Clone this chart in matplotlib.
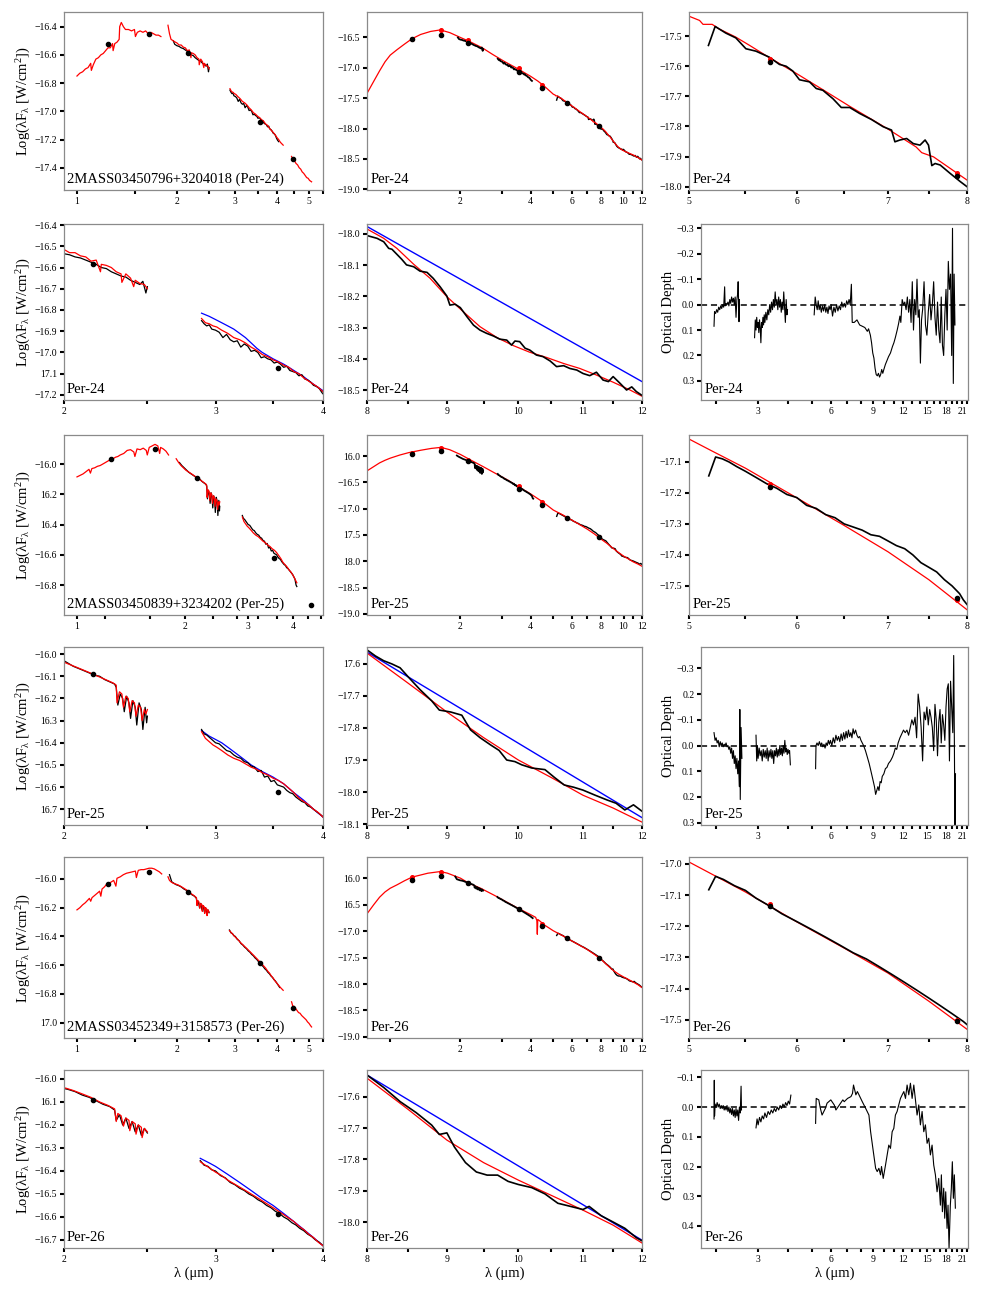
import matplotlib
matplotlib.use('Agg')
import matplotlib.pyplot as plt
from matplotlib.ticker import FixedLocator, FixedFormatter, NullFormatter, NullLocator

plt.rcParams['font.family'] = ['Liberation Serif', 'DejaVu Serif']
plt.rcParams['mathtext.fontset'] = 'custom'
plt.rcParams['mathtext.rm'] = 'Liberation Serif'
plt.rcParams['mathtext.it'] = 'Liberation Serif:italic'

# ======================= DATA =======================
phot_wl = [1.24, 1.65, 2.16, 3.55, 4.49, 5.73, 7.87]

# ---------------- Per-24 ----------------
p24_nirA_wl = [1.00,1.02,1.04,1.06,1.08,1.10,1.105,1.12,1.14,1.16,1.18,1.20,1.22,1.24,1.26,1.28,1.285,1.30,1.32,1.34,1.345,1.36,1.38,1.40,1.43,1.46,1.49,1.50,1.52,1.55,1.58,1.61,1.64,1.67,1.70,1.73,1.76,1.79]
p24_nirA_v = [-16.75,-16.73,-16.72,-16.70,-16.69,-16.66,-16.71,-16.67,-16.63,-16.62,-16.60,-16.59,-16.57,-16.55,-16.55,-16.52,-16.57,-16.52,-16.51,-16.49,-16.40,-16.37,-16.40,-16.42,-16.42,-16.43,-16.42,-16.47,-16.44,-16.43,-16.44,-16.43,-16.45,-16.44,-16.45,-16.46,-16.46,-16.47]
p24_nirB_wl = [1.88,1.90,1.92,1.95,1.98,2.00,2.03,2.06,2.09,2.12,2.15,2.18,2.205,2.21,2.24,2.27,2.30,2.33,2.335,2.36,2.39,2.41,2.42,2.45,2.48,2.50]
p24_nirB_v = [-16.39,-16.45,-16.49,-16.50,-16.51,-16.515,-16.53,-16.53,-16.545,-16.55,-16.57,-16.565,-16.62,-16.585,-16.59,-16.60,-16.62,-16.63,-16.67,-16.63,-16.65,-16.69,-16.66,-16.675,-16.68,-16.70]
p24_nirC_wl = [2.89,2.92,2.95,2.98,3.01,3.05,3.10,3.15,3.20,3.25,3.30,3.35,3.40,3.45,3.50,3.55,3.60,3.65,3.70,3.75,3.80,3.85,3.90,3.95,4.00,4.05,4.10,4.18]
p24_nirC_v = [-16.84,-16.86,-16.865,-16.875,-16.88,-16.895,-16.91,-16.93,-16.94,-16.955,-16.975,-16.99,-17.01,-17.02,-17.035,-17.045,-17.06,-17.07,-17.09,-17.10,-17.12,-17.135,-17.15,-17.165,-17.185,-17.20,-17.22,-17.24]
p24_nirD_wl = [4.43,4.47,4.52,4.57,4.62,4.67,4.72,4.77,4.82,4.87,4.92,4.97,5.02,5.09]
p24_nirD_v = [-17.32,-17.34,-17.35,-17.37,-17.38,-17.40,-17.41,-17.43,-17.44,-17.455,-17.47,-17.475,-17.49,-17.50]
p24_obsB_wl = [1.95,1.97,2.00,2.03,2.06,2.09,2.12,2.15,2.18,2.21,2.24,2.27,2.30,2.33,2.36,2.39,2.42,2.45,2.47,2.49,2.50]
p24_obsB_v = [-16.50,-16.525,-16.535,-16.54,-16.55,-16.555,-16.565,-16.575,-16.585,-16.60,-16.605,-16.62,-16.63,-16.64,-16.645,-16.66,-16.67,-16.68,-16.665,-16.72,-16.69]
p24_obsC_wl = [2.89,2.91,2.93,2.95,2.97,3.00,3.03,3.06,3.09,3.12,3.15,3.18,3.21,3.24,3.27,3.30,3.33,3.36,3.39,3.42,3.45,3.48,3.51,3.54,3.57,3.60,3.63,3.66,3.69,3.72,3.75,3.78,3.81,3.84,3.87,3.90,3.93,3.96,3.99,4.02,4.05]
p24_obsC_v = [-16.85,-16.865,-16.875,-16.87,-16.89,-16.895,-16.905,-16.93,-16.915,-16.94,-16.95,-16.945,-16.975,-16.96,-16.97,-16.995,-16.99,-17.0,-17.025,-17.02,-17.03,-17.035,-17.05,-17.045,-17.055,-17.07,-17.065,-17.085,-17.09,-17.095,-17.11,-17.105,-17.125,-17.13,-17.14,-17.155,-17.16,-17.17,-17.19,-17.205,-17.215]
p24_blue_wl = [2.89,2.95,3.00,3.05,3.10,3.15,3.20,3.25,3.30,3.35,3.40,3.50,3.60,3.70,3.80,3.90,4.00]
p24_blue_v = [-16.815,-16.83,-16.845,-16.86,-16.875,-16.89,-16.91,-16.93,-16.955,-16.98,-17.00,-17.03,-17.055,-17.085,-17.115,-17.15,-17.18]
p24_sed_wl = [0.79,0.85,0.90,0.95,1.00,1.07,1.15,1.24,1.35,1.49,1.64,1.80,2.00,2.20,2.48,2.75,3.07,3.50,4.00,4.30,4.57,5.00]
p24_sed_v = [-17.44,-17.22,-17.05,-16.90,-16.79,-16.70,-16.61,-16.52,-16.45,-16.40,-16.375,-16.42,-16.50,-16.57,-16.67,-16.78,-16.89,-17.01,-17.14,-17.22,-17.30,-17.434]
p24_mirR_wl = [5.00,5.09,5.12,5.20,5.26,5.41,5.54,5.73,5.99,6.27,6.56,6.99,7.34,7.41,7.56,8.00]
p24_mirR_v = [-17.434,-17.448,-17.461,-17.461,-17.476,-17.503,-17.531,-17.572,-17.623,-17.678,-17.733,-17.807,-17.868,-17.887,-17.901,-17.978]
p24_mirB_wl = [5.167,5.226,5.321,5.412,5.505,5.599,5.727,5.826,5.892,5.959,6.027,6.13,6.2,6.27,6.378,6.468,6.561,6.673,6.807,6.943,7.042,7.082,7.143,7.224,7.306,7.389,7.453,7.496,7.538,7.58,7.645,7.776,7.909,8.0]
p24_mirB_v = [-17.531,-17.468,-17.490,-17.506,-17.542,-17.550,-17.570,-17.594,-17.600,-17.616,-17.645,-17.652,-17.674,-17.680,-17.708,-17.737,-17.737,-17.757,-17.777,-17.801,-17.812,-17.851,-17.845,-17.840,-17.857,-17.862,-17.845,-17.862,-17.930,-17.923,-17.928,-17.956,-17.983,-18.0]
p24_lwR_wl = [8.0,8.2,8.36,8.57,8.78,9.0,9.22,9.45,9.69,9.93,10.17,10.43,10.69,10.95,11.22,11.5,11.79,12.0]
p24_lwR_v = [-17.984,-18.014,-18.046,-18.097,-18.142,-18.201,-18.249,-18.297,-18.332,-18.358,-18.379,-18.396,-18.415,-18.431,-18.452,-18.475,-18.50,-18.52]
p24_lwB_wl = [8.0,8.12,8.2,8.26,8.3,8.36,8.42,8.48,8.57,8.65,8.74,8.82,8.91,9.0,9.04,9.11,9.18,9.27,9.36,9.45,9.54,9.64,9.73,9.83,9.9,9.95,10.02,10.1,10.17,10.27,10.37,10.48,10.58,10.69,10.79,10.9,11.0,11.11,11.22,11.33,11.42,11.5,11.62,11.73,11.82,11.9,11.99]
p24_lwB_v = [-18.005,-18.014,-18.025,-18.046,-18.049,-18.065,-18.081,-18.099,-18.105,-18.119,-18.123,-18.142,-18.169,-18.199,-18.228,-18.225,-18.236,-18.265,-18.292,-18.308,-18.318,-18.327,-18.337,-18.340,-18.356,-18.343,-18.345,-18.366,-18.372,-18.388,-18.393,-18.407,-18.425,-18.422,-18.431,-18.436,-18.447,-18.454,-18.443,-18.468,-18.473,-18.457,-18.479,-18.5,-18.49,-18.505,-18.516]
p24_cont_wl = [8.0, 12.0]
p24_cont_v = [-17.976, -18.473]
p24_phot_obs = [-16.52,-16.455,-16.585,-17.075,-17.335,-17.585,-17.965]
p24_phot_mod = [-16.52,-16.38,-16.545,-17.00,-17.29,-17.575,-17.955]
p24_od1 = [(1.97,0.085),(1.98,0.027),(2.00,0.035),(2.02,0.02),(2.04,0.03),(2.06,0.01),(2.08,0.02),(2.10,0.005),(2.12,0.015),(2.14,0.0),(2.16,0.01),(2.18,-0.07),(2.19,0.005),(2.21,-0.005),(2.23,0.0),(2.25,-0.01),(2.27,0.005),(2.29,-0.02),(2.31,-0.005),(2.33,-0.03),(2.35,-0.01),(2.37,-0.025),(2.39,0.0),(2.41,-0.03),(2.43,0.05),(2.45,-0.02),(2.47,-0.045),(2.48,-0.09),(2.50,0.067),(2.51,-0.02)]
p24_od2 = [(2.90,0.13),(2.92,0.06),(2.94,0.10),(2.96,0.05),(2.98,0.09),(3.00,0.07),(3.02,0.11),(3.04,0.06),(3.06,0.09),(3.08,0.15),(3.10,0.07),(3.12,0.09),(3.14,0.05),(3.16,0.08),(3.18,0.04),(3.20,0.07),(3.23,0.03),(3.26,0.06),(3.29,0.02),(3.32,0.04),(3.35,0.0),(3.38,0.03),(3.41,-0.01),(3.44,0.02),(3.47,-0.02),(3.50,0.01),(3.53,-0.05),(3.56,0.0),(3.59,-0.02),(3.62,0.02),(3.65,-0.03),(3.68,0.01),(3.71,-0.02),(3.74,0.03),(3.77,-0.01),(3.80,0.02),(3.83,-0.05),(3.86,0.01),(3.89,0.07),(3.92,-0.02),(3.95,0.04),(3.97,0.02)]
p24_od3 = [(5.12,0.04),(5.17,-0.03),(5.22,0.0),(5.27,0.02),(5.32,-0.015),(5.37,0.02),(5.42,0.0),(5.48,0.03),(5.54,0.005),(5.6,0.025),(5.66,0.0),(5.72,0.03),(5.78,0.01),(5.84,0.035),(5.9,0.005),(5.96,0.02),(6.02,0.0),(6.1,0.045),(6.18,0.01),(6.26,0.03),(6.34,0.0),(6.42,0.025),(6.5,0.005),(6.58,0.02),(6.66,-0.01),(6.74,0.01),(6.82,-0.005),(6.9,0.01),(6.98,-0.015),(7.06,0.0),(7.14,-0.02),(7.22,0.0),(7.3,-0.08),(7.36,0.07),(7.5,0.07),(7.7,0.06),(7.9,0.08),(8.1,0.085),(8.3,0.09),(8.5,0.105),(8.6,0.095),(8.75,0.12),(8.85,0.15),(8.95,0.19),(9.05,0.21),(9.15,0.25),(9.25,0.275),(9.35,0.28),(9.45,0.27),(9.55,0.285),(9.65,0.275),(9.75,0.255),(9.85,0.27),(9.95,0.255),(10.1,0.235),(10.25,0.22),(10.4,0.205),(10.6,0.19),(10.8,0.165),(10.95,0.15),(11.1,0.13),(11.3,0.10),(11.45,0.075),(11.6,0.045),(11.7,0.07),(11.85,-0.02),(12.0,0.0),(12.15,-0.01),(12.3,0.02),(12.45,-0.03),(12.6,0.03),(12.75,-0.02),(12.9,0.07),(13.05,-0.09),(13.2,0.1),(13.35,-0.02),(13.5,0.04),(13.65,-0.1),(13.8,0.05),(13.95,0.02),(14.1,0.23),(14.25,0.06),(14.4,0.02),(14.6,-0.09),(14.8,0.08),(15.0,0.12),(15.2,0.03),(15.4,-0.04),(15.6,0.06),(15.8,0.0),(16.0,-0.09),(16.2,0.05),(16.4,0.12),(16.6,-0.01),(16.8,0.1),(17.0,0.15),(17.2,-0.03),(17.4,0.16),(17.6,0.2),(17.8,0.04),(18.0,-0.06),(18.2,0.1),(18.4,-0.17),(18.6,-0.06),(18.8,-0.12),(19.0,0.2),(19.15,-0.3),(19.3,0.31),(19.45,-0.12),(19.6,0.08)]

# ---------------- Per-25 ----------------
p25_nirA_wl = [1.00,1.02,1.04,1.06,1.08,1.09,1.10,1.12,1.14,1.16,1.18,1.20,1.22,1.24,1.26,1.28,1.30,1.32,1.35,1.38,1.41,1.44,1.45,1.47,1.50,1.53,1.56,1.57,1.59,1.62,1.65,1.68,1.70,1.71,1.74,1.77,1.80]
p25_nirA_v = [-16.085,-16.075,-16.065,-16.05,-16.035,-16.06,-16.03,-16.025,-16.015,-16.01,-16.0,-15.99,-15.98,-15.97,-15.965,-15.955,-15.95,-15.94,-15.93,-15.91,-15.905,-15.92,-15.95,-15.90,-15.905,-15.895,-15.91,-15.94,-15.89,-15.88,-15.87,-15.88,-15.93,-15.89,-15.90,-15.915,-15.94]
p25_nirB_wl = [1.89,1.92,1.95,1.98,2.01,2.04,2.07,2.10,2.13,2.16,2.19,2.22,2.25,2.28,2.30,2.305,2.32,2.335,2.345,2.36,2.375,2.385,2.40,2.415,2.425,2.44,2.455,2.465,2.48,2.49,2.50]
p25_nirB_v = [-15.965,-15.99,-16.01,-16.025,-16.04,-16.05,-16.06,-16.07,-16.08,-16.09,-16.10,-16.11,-16.12,-16.13,-16.14,-16.22,-16.17,-16.18,-16.24,-16.19,-16.20,-16.26,-16.21,-16.22,-16.28,-16.23,-16.24,-16.30,-16.25,-16.27,-16.25]
p25_nirC_wl = [2.89,2.92,2.95,2.98,3.01,3.05,3.10,3.15,3.20,3.25,3.30,3.35,3.40,3.45,3.50,3.55,3.60,3.65,3.70,3.75,3.80,3.85,3.90,3.95,4.00,4.05,4.10]
p25_nirC_v = [-16.35,-16.38,-16.395,-16.41,-16.42,-16.435,-16.455,-16.47,-16.48,-16.495,-16.51,-16.52,-16.535,-16.545,-16.56,-16.57,-16.585,-16.605,-16.625,-16.65,-16.665,-16.68,-16.70,-16.715,-16.735,-16.76,-16.785]
p25_obsB_wl = [1.93,1.96,1.99,2.02,2.05,2.08,2.11,2.14,2.17,2.20,2.23,2.26,2.29,2.30,2.31,2.325,2.34,2.35,2.365,2.38,2.39,2.405,2.42,2.43,2.445,2.46,2.47,2.485,2.495,2.50]
p25_obsB_v = [-15.99,-16.01,-16.025,-16.04,-16.055,-16.065,-16.075,-16.085,-16.095,-16.10,-16.115,-16.125,-16.135,-16.15,-16.23,-16.18,-16.20,-16.26,-16.19,-16.22,-16.29,-16.21,-16.24,-16.32,-16.22,-16.25,-16.34,-16.24,-16.31,-16.28]
p25_obsC_wl = [2.89,2.91,2.93,2.95,2.97,3.00,3.03,3.06,3.09,3.12,3.15,3.18,3.21,3.24,3.27,3.30,3.33,3.36,3.39,3.42,3.45,3.48,3.51,3.54,3.57,3.60,3.63,3.66,3.69,3.72,3.75,3.78,3.81,3.84,3.87,3.90,3.93,3.96,3.99,4.02,4.05,4.08,4.10]
p25_obsC_v = [-16.34,-16.36,-16.365,-16.375,-16.385,-16.40,-16.405,-16.42,-16.435,-16.44,-16.455,-16.465,-16.47,-16.485,-16.49,-16.505,-16.51,-16.53,-16.525,-16.555,-16.55,-16.575,-16.57,-16.59,-16.595,-16.60,-16.615,-16.625,-16.63,-16.645,-16.655,-16.665,-16.67,-16.685,-16.69,-16.70,-16.71,-16.72,-16.73,-16.745,-16.76,-16.80,-16.81]
p25_blue_wl = [2.89,2.95,3.00,3.05,3.10,3.15,3.20,3.25,3.30,3.35,3.40,3.50,3.60,3.70,3.80,3.90,4.00]
p25_blue_v = [-16.345,-16.37,-16.385,-16.40,-16.42,-16.44,-16.46,-16.48,-16.50,-16.515,-16.53,-16.555,-16.585,-16.625,-16.66,-16.70,-16.735]
p25_sed_wl = [0.79,0.85,0.90,0.95,1.00,1.10,1.20,1.35,1.50,1.65,1.80,2.00,2.20,2.50,2.80,3.20,3.60,4.00,4.50,5.00]
p25_sed_v = [-16.29,-16.20,-16.13,-16.08,-16.04,-15.98,-15.935,-15.89,-15.855,-15.835,-15.88,-15.97,-16.07,-16.20,-16.32,-16.46,-16.60,-16.72,-16.87,-17.026]
p25_mirR_wl = [5.0,5.2,5.5,6.0,6.5,7.0,7.5,8.0]
p25_mirR_v = [-17.026,-17.065,-17.12,-17.216,-17.305,-17.39,-17.48,-17.577]
p25_mirB_wl = [5.17,5.23,5.29,5.35,5.42,5.5,5.6,5.7,5.8,5.9,6.0,6.1,6.2,6.3,6.4,6.5,6.6,6.7,6.8,6.9,7.0,7.1,7.2,7.3,7.4,7.5,7.6,7.7,7.8,7.9,7.95,8.0]
p25_mirB_v = [-17.145,-17.084,-17.09,-17.10,-17.115,-17.13,-17.15,-17.17,-17.185,-17.205,-17.215,-17.24,-17.25,-17.27,-17.28,-17.30,-17.31,-17.32,-17.335,-17.34,-17.355,-17.37,-17.38,-17.40,-17.425,-17.44,-17.455,-17.48,-17.50,-17.525,-17.545,-17.56]
p25_lwR_wl = [8.0,8.5,9.0,9.5,10.0,10.5,11.0,11.5,12.0]
p25_lwR_v = [-17.566,-17.66,-17.75,-17.83,-17.90,-17.955,-18.01,-18.05,-18.094]
p25_lwB_wl = [8.0,8.1,8.2,8.3,8.4,8.5,8.65,8.8,8.9,9.05,9.2,9.32,9.45,9.6,9.72,9.83,9.95,10.05,10.2,10.4,10.55,10.7,10.85,11.0,11.2,11.4,11.55,11.7,11.85,12.0]
p25_lwB_v = [-17.556,-17.575,-17.59,-17.60,-17.612,-17.64,-17.68,-17.715,-17.744,-17.75,-17.76,-17.806,-17.83,-17.853,-17.87,-17.90,-17.905,-17.915,-17.925,-17.93,-17.955,-17.978,-17.985,-17.994,-18.01,-18.025,-18.035,-18.056,-18.04,-18.06]
p25_cont_wl = [8.0, 12.0]
p25_cont_v = [-17.563, -18.08]
p25_phot_obs = [-15.967,-15.903,-16.09,-16.62,-16.935,-17.18,-17.54]
p25_phot_mod = [-15.935,-15.84,-16.08,-16.57,-16.87,-17.17,-17.545]
p25_od1 = [(1.97,-0.05),(1.99,-0.02),(2.01,-0.03),(2.03,-0.01),(2.05,-0.02),(2.07,0.005),(2.09,-0.015),(2.11,0.0),(2.13,-0.01),(2.15,0.005),(2.17,-0.005),(2.19,0.0),(2.21,-0.01),(2.23,0.005),(2.25,0.0),(2.27,0.015),(2.29,0.005),(2.31,0.03),(2.33,0.01),(2.35,0.05),(2.37,0.02),(2.39,0.07),(2.41,0.04),(2.43,0.09),(2.45,0.05),(2.47,0.11),(2.49,0.06),(2.51,0.16),(2.52,-0.14),(2.53,0.21),(2.55,-0.07),(2.57,0.05)]
p25_od2 = [(2.94,-0.04),(2.96,0.06),(2.98,0.0),(3.0,0.05),(3.03,0.01),(3.06,0.04),(3.09,0.02),(3.12,0.06),(3.15,0.015),(3.18,0.045),(3.21,0.02),(3.24,0.05),(3.27,0.01),(3.30,0.06),(3.33,0.02),(3.36,0.045),(3.39,0.015),(3.42,0.05),(3.45,0.02),(3.48,0.07),(3.51,0.02),(3.54,0.04),(3.57,0.01),(3.6,0.045),(3.63,0.015),(3.66,0.04),(3.69,0.0),(3.72,0.035),(3.75,0.01),(3.78,0.04),(3.81,0.0),(3.84,0.03),(3.87,-0.02),(3.9,0.025),(3.93,0.01),(3.96,0.035),(3.99,0.015),(4.02,0.03),(4.05,0.02),(4.08,0.075)]
p25_od3 = [(5.19,0.09),(5.21,0.0),(5.26,-0.01),(5.32,0.0),(5.38,-0.015),(5.44,0.0),(5.5,-0.01),(5.56,0.005),(5.62,-0.005),(5.68,0.01),(5.74,-0.01),(5.8,0.0),(5.86,-0.02),(5.92,-0.005),(5.98,-0.02),(6.06,0.0),(6.14,-0.03),(6.22,-0.01),(6.3,-0.04),(6.38,-0.02),(6.46,-0.035),(6.54,-0.015),(6.62,-0.045),(6.7,-0.02),(6.78,-0.05),(6.86,-0.025),(6.94,-0.055),(7.02,-0.03),(7.1,-0.06),(7.18,-0.035),(7.26,-0.05),(7.34,-0.03),(7.42,-0.065),(7.5,-0.045),(7.6,-0.06),(7.7,-0.04),(7.8,-0.03),(7.9,-0.035),(8.0,-0.02),(8.1,-0.01),(8.2,0.0),(8.35,0.02),(8.5,0.045),(8.65,0.07),(8.8,0.1),(8.95,0.13),(9.1,0.16),(9.2,0.19),(9.3,0.175),(9.4,0.16),(9.5,0.175),(9.6,0.14),(9.7,0.145),(9.8,0.12),(9.95,0.11),(10.1,0.09),(10.25,0.085),(10.4,0.07),(10.6,0.06),(10.8,0.045),(10.95,0.03),(11.1,0.01),(11.25,0.015),(11.4,-0.01),(11.6,-0.03),(11.8,-0.045),(12.0,-0.06),(12.2,-0.05),(12.4,-0.06),(12.6,-0.04),(12.8,-0.07),(13.0,-0.1),(13.2,-0.08),(13.4,-0.11),(13.6,-0.03),(13.8,-0.2),(14.0,-0.15),(14.2,-0.07),(14.4,0.06),(14.6,-0.13),(14.8,-0.1),(15.0,-0.15),(15.2,-0.08),(15.4,-0.14),(15.6,-0.11),(15.8,-0.07),(16.0,0.02),(16.2,-0.16),(16.4,-0.1),(16.6,0.04),(16.8,-0.09),(17.0,-0.14),(17.2,-0.01),(17.4,-0.12),(17.6,-0.08),(17.8,-0.02),(18.0,-0.15),(18.2,-0.22),(18.4,-0.24),(18.6,0.06),(18.8,-0.25),(19.0,-0.15),(19.2,-0.05),(19.37,-0.35),(19.5,0.0),(19.6,0.35),(19.7,0.11)]

# ---------------- Per-26 ----------------
p26_nirA_wl = [1.00,1.02,1.04,1.06,1.08,1.09,1.10,1.11,1.13,1.15,1.17,1.18,1.19,1.21,1.23,1.25,1.27,1.29,1.31,1.32,1.35,1.38,1.41,1.44,1.47,1.50,1.51,1.53,1.56,1.59,1.62,1.65,1.68,1.71,1.74,1.77,1.80]
p26_nirA_v = [-16.215,-16.20,-16.18,-16.165,-16.145,-16.135,-16.155,-16.13,-16.115,-16.10,-16.085,-16.12,-16.07,-16.055,-16.035,-16.03,-16.02,-16.01,-16.05,-15.995,-15.985,-15.97,-15.96,-15.955,-15.95,-15.945,-15.99,-15.94,-15.935,-15.935,-15.93,-15.925,-15.925,-15.93,-15.94,-15.95,-15.965]
p26_nirB_wl = [1.88,1.90,1.92,1.95,1.98,2.01,2.05,2.10,2.15,2.20,2.25,2.29,2.30,2.31,2.33,2.345,2.36,2.38,2.385,2.40,2.42,2.425,2.44,2.46,2.465,2.48,2.50]
p26_nirB_v = [-15.985,-16.01,-16.02,-16.03,-16.035,-16.04,-16.05,-16.065,-16.08,-16.10,-16.115,-16.13,-16.185,-16.15,-16.16,-16.205,-16.17,-16.18,-16.225,-16.185,-16.195,-16.24,-16.20,-16.21,-16.255,-16.215,-16.23]
p26_nirC_wl = [2.88,2.92,2.96,3.00,3.05,3.10,3.15,3.20,3.25,3.30,3.35,3.40,3.45,3.50,3.55,3.60,3.65,3.70,3.75,3.80,3.85,3.90,3.95,4.00,4.05,4.10,4.18]
p26_nirC_v = [-16.36,-16.375,-16.39,-16.405,-16.42,-16.44,-16.455,-16.47,-16.485,-16.50,-16.515,-16.53,-16.545,-16.56,-16.575,-16.59,-16.605,-16.62,-16.64,-16.655,-16.675,-16.69,-16.71,-16.725,-16.74,-16.755,-16.775]
p26_nirD_wl = [4.43,4.45,4.47,4.50,4.55,4.60,4.65,4.70,4.75,4.80,4.85,4.90,4.95,5.00,5.05,5.09]
p26_nirD_v = [-16.855,-16.87,-16.89,-16.885,-16.90,-16.915,-16.93,-16.935,-16.95,-16.96,-16.97,-16.98,-16.995,-17.005,-17.02,-17.03]
p26_obsB_wl = [1.90,1.93,1.96,1.99,2.02,2.06,2.10,2.14,2.18,2.22,2.26,2.29,2.30,2.32,2.34,2.36,2.38,2.40,2.42,2.44,2.46,2.48,2.50]
p26_obsB_v = [-15.97,-16.02,-16.03,-16.04,-16.045,-16.055,-16.07,-16.08,-16.095,-16.11,-16.12,-16.135,-16.18,-16.155,-16.20,-16.17,-16.215,-16.185,-16.23,-16.20,-16.245,-16.215,-16.235]
p26_obsC_wl = [2.88,2.91,2.94,2.97,3.00,3.04,3.08,3.12,3.16,3.20,3.24,3.28,3.32,3.36,3.40,3.44,3.48,3.52,3.56,3.60,3.64,3.68,3.72,3.76,3.80,3.84,3.88,3.92,3.96,4.00,4.04,4.08]
p26_obsC_v = [-16.355,-16.375,-16.38,-16.395,-16.40,-16.42,-16.43,-16.45,-16.46,-16.475,-16.485,-16.50,-16.51,-16.525,-16.535,-16.55,-16.56,-16.575,-16.585,-16.60,-16.61,-16.625,-16.635,-16.65,-16.66,-16.675,-16.685,-16.70,-16.71,-16.725,-16.74,-16.755]
p26_blue_wl = [2.88,2.95,3.00,3.10,3.20,3.30,3.40,3.50,3.60,3.70,3.80,3.90,4.00]
p26_blue_v = [-16.345,-16.365,-16.38,-16.415,-16.45,-16.485,-16.52,-16.55,-16.585,-16.62,-16.655,-16.69,-16.725]
p26_sed_wl = [0.79,0.85,0.90,0.95,1.00,1.07,1.15,1.24,1.35,1.45,1.64,1.76,2.00,2.17,2.44,2.85,3.50,4.00,4.20,4.25,4.27,4.29,4.35,4.60,5.00]
p26_sed_v = [-16.69,-16.50,-16.36,-16.26,-16.19,-16.125,-16.05,-15.98,-15.94,-15.906,-15.875,-15.906,-16.0,-16.094,-16.19,-16.344,-16.56,-16.69,-16.74,-16.80,-17.06,-16.78,-16.80,-16.89,-16.994]
p26_mirR_wl = [5.0,5.5,6.0,6.5,7.0,7.5,8.0]
p26_mirR_v = [-16.994,-17.09,-17.186,-17.27,-17.35,-17.44,-17.53]
p26_mirB_wl = [5.17,5.23,5.3,5.4,5.5,5.6,5.73,5.85,6.0,6.15,6.3,6.45,6.6,6.75,6.9,7.05,7.2,7.35,7.5,7.65,7.8,7.95,8.0]
p26_mirB_v = [-17.083,-17.04,-17.05,-17.07,-17.085,-17.11,-17.135,-17.16,-17.185,-17.21,-17.235,-17.26,-17.285,-17.305,-17.33,-17.355,-17.38,-17.405,-17.43,-17.455,-17.48,-17.505,-17.515]
p26_lwR_wl = [8.0,8.5,9.0,9.5,10.0,10.5,11.0,11.5,12.0]
p26_lwR_v = [-17.54,-17.64,-17.738,-17.81,-17.866,-17.915,-17.962,-18.01,-18.067]
p26_lwB_wl = [8.0,8.2,8.4,8.6,8.8,8.9,9.0,9.1,9.25,9.4,9.55,9.7,9.85,10.0,10.2,10.4,10.6,10.8,11.0,11.1,11.3,11.5,11.7,11.9,12.0]
p26_lwB_v = [-17.53,-17.57,-17.615,-17.65,-17.69,-17.72,-17.715,-17.76,-17.81,-17.84,-17.85,-17.85,-17.87,-17.88,-17.89,-17.91,-17.94,-17.95,-17.96,-17.95,-17.98,-18.0,-18.02,-18.05,-18.06]
p26_cont_wl = [8.0, 12.0]
p26_cont_v = [-17.53, -18.058]
p26_phot_obs = [-16.035,-15.95,-16.09,-16.585,-16.90,-17.135,-17.505]
p26_phot_mod = [-15.975,-15.885,-16.09,-16.575,-16.86,-17.13,-17.50]
p26_od1 = [(1.97,0.04),(1.975,-0.09),(1.98,0.03),(1.99,-0.01),(2.01,0.0),(2.03,-0.015),(2.05,0.0),(2.07,-0.01),(2.09,0.005),(2.11,-0.005),(2.13,0.005),(2.15,-0.005),(2.17,0.01),(2.19,0.0),(2.21,0.01),(2.23,-0.005),(2.25,0.015),(2.27,0.0),(2.29,0.02),(2.31,0.005),(2.33,0.025),(2.35,0.005),(2.37,0.03),(2.39,0.01),(2.41,0.035),(2.43,0.005),(2.45,0.03),(2.47,0.01),(2.49,0.045),(2.51,0.0),(2.53,0.02),(2.55,-0.07),(2.56,0.01)]
p26_od2 = [(2.94,0.07),(2.97,0.04),(3.0,0.06),(3.04,0.035),(3.08,0.05),(3.12,0.03),(3.16,0.04),(3.2,0.02),(3.25,0.035),(3.3,0.015),(3.35,0.025),(3.4,0.01),(3.45,0.02),(3.5,0.005),(3.55,0.015),(3.6,0.0),(3.65,0.01),(3.7,-0.005),(3.75,0.005),(3.8,-0.01),(3.85,0.0),(3.9,-0.015),(3.95,-0.005),(4.0,-0.02),(4.05,-0.01),(4.1,-0.04)]
p26_od3 = [(5.19,0.055),(5.22,-0.029),(5.35,-0.024),(5.43,0.004),(5.52,0.027),(5.70,0.004),(5.79,-0.013),(6.0,-0.024),(6.2,-0.007),(6.3,0.01),(6.51,-0.007),(6.73,-0.024),(6.82,-0.018),(7.04,-0.029),(7.27,-0.035),(7.38,-0.046),(7.45,-0.074),(7.62,-0.041),(7.73,-0.052),(7.85,-0.041),(8.1,-0.018),(8.36,0.004),(8.63,0.027),(8.77,0.083),(9.0,0.15),(9.2,0.206),(9.34,0.217),(9.49,0.206),(9.64,0.228),(9.73,0.2),(9.89,0.24),(10.11,0.195),(10.27,0.161),(10.43,0.128),(10.6,0.139),(10.77,0.083),(10.94,0.072),(11.11,0.027),(11.29,0.015),(11.47,-0.007),(11.66,-0.029),(11.85,-0.041),(12.04,-0.052),(12.23,-0.029),(12.42,-0.074),(12.62,-0.041),(12.82,-0.08),(13.03,-0.029),(13.24,-0.074),(13.45,-0.024),(13.66,0.027),(13.88,-0.007),(14.1,0.06),(14.33,0.015),(14.56,0.083),(14.79,0.06),(15.03,0.122),(15.27,0.105),(15.51,0.161),(15.76,0.128),(16.01,0.195),(16.27,0.228),(16.53,0.285),(16.79,0.24),(17.06,0.33),(17.22,0.228),(17.39,0.352),(17.61,0.273),(17.78,0.374),(17.95,0.285),(18.18,0.408),(18.35,0.33),(18.53,0.475),(18.76,0.33),(18.94,0.273),(19.12,0.184),(19.31,0.307),(19.49,0.228),(19.68,0.34)]

# ---------------- names and tick labels ----------------
full_names = ['2MASS03450796+3204018 (Per-24)', '2MASS03450839+3234202 (Per-25)', '2MASS03452349+3158573 (Per-26)']
short_names = ['Per-24', 'Per-25', 'Per-26']

yticks = {
    (0, 0): [-16.4, -16.6, -16.8, -17.0, -17.2, -17.4],
    (0, 1): [-16.5, -17.0, -17.5, -18.0, -18.5, -19.0],
    (0, 2): [-17.5, -17.6, -17.7, -17.8, -17.9, -18.0],
    (1, 0): [-16.4, -16.5, -16.6, -16.7, -16.8, -16.9, -17.0, -17.1, -17.2],
    (1, 1): [-18.0, -18.1, -18.2, -18.3, -18.4, -18.5],
    (1, 2): [-0.3, -0.2, -0.1, 0.0, 0.1, 0.2, 0.3],
    (2, 0): [-16.0, -16.2, -16.4, -16.6, -16.8],
    (2, 1): [-16.0, -16.5, -17.0, -17.5, -18.0, -18.5, -19.0],
    (2, 2): [-17.1, -17.2, -17.3, -17.4, -17.5],
    (3, 0): [-16.0, -16.1, -16.2, -16.3, -16.4, -16.5, -16.6, -16.7],
    (3, 1): [-17.6, -17.7, -17.8, -17.9, -18.0, -18.1],
    (3, 2): [-0.3, -0.2, -0.1, 0.0, 0.1, 0.2, 0.3],
    (4, 0): [-16.0, -16.2, -16.4, -16.6, -16.8, -17.0],
    (4, 1): [-16.0, -16.5, -17.0, -17.5, -18.0, -18.5, -19.0],
    (4, 2): [-17.0, -17.1, -17.2, -17.3, -17.4, -17.5],
    (5, 0): [-16.0, -16.1, -16.2, -16.3, -16.4, -16.5, -16.6, -16.7],
    (5, 1): [-17.6, -17.7, -17.8, -17.9, -18.0],
    (5, 2): [-0.1, 0.0, 0.1, 0.2, 0.3, 0.4],
}
ylabels = {
    (0, 0): ['−16.4', '−16.6', '−16.8', '−17.0', '−17.2', '−17.4'],
    (0, 1): ['−16.5', '−17.0', '−17.5', '−18.0', '−18.5', '−19.0'],
    (0, 2): ['−17.5', '−17.6', '−17.7', '−17.8', '−17.9', '−18.0'],
    (1, 0): ['−16.4', '−16.5', '−16.6', '−16.7', '−16.8', '−16.9', '−17.0', '17.1', '−17.2'],
    (1, 1): ['−18.0', '−18.1', '−18.2', '−18.3', '−18.4', '−18.5'],
    (1, 2): ['−0.3', '−0.2', '−0.1', '0.0', '0.1', '0.2', '0.3'],
    (2, 0): ['−16.0', '16.2', '16.4', '−16.6', '−16.8'],
    (2, 1): ['16.0', '−16.5', '−17.0', '17.5', '18.0', '−18.5', '−19.0'],
    (2, 2): ['−17.1', '−17.2', '−17.3', '−17.4', '−17.5'],
    (3, 0): ['−16.0', '−16.1', '−16.2', '16.3', '−16.4', '−16.5', '−16.6', '16.7'],
    (3, 1): ['17.6', '−17.7', '−17.8', '17.9', '−18.0', '−18.1'],
    (3, 2): ['−0.3', '0.2', '−0.1', '0.0', '0.1', '0.2', '0.3'],
    (4, 0): ['−16.0', '−16.2', '−16.4', '−16.6', '−16.8', '17.0'],
    (4, 1): ['16.0', '16.5', '−17.0', '−17.5', '−18.0', '−18.5', '−19.0'],
    (4, 2): ['−17.0', '−17.1', '−17.2', '−17.3', '−17.4', '−17.5'],
    (5, 0): ['−16.0', '16.1', '−16.2', '−16.3', '−16.4', '−16.5', '−16.6', '−16.7'],
    (5, 1): ['−17.6', '−17.7', '−17.8', '−17.9', '−18.0'],
    (5, 2): ['−0.1', '0.0', '0.1', '0.2', '0.3', '0.4'],
}
ylims = {
    (0, 0): (-17.558, -16.296), (0, 1): (-19.012, -16.08), (0, 2): (-18.011, -17.42),
    (1, 0): (-17.224, -16.395), (1, 1): (-18.532, -17.968), (1, 2): (0.375, -0.317),
    (2, 0): (-16.998, -15.808), (2, 1): (-19.02, -15.6), (2, 2): (-17.594, -17.013),
    (3, 0): (-16.771, -15.968), (3, 1): (-18.103, -17.547), (3, 2): (0.309, -0.383),
    (4, 0): (-17.107, -15.847), (4, 1): (-19.02, -15.6), (4, 2): (-17.558, -16.978),
    (5, 0): (-16.735, -15.961), (5, 1): (-18.083, -17.514), (5, 2): (0.474, -0.1245),
}

X_NIR = dict(lim=(0.914, 5.51), maj=[1, 2, 3, 4, 5], mnr=[1.5, 2.5, 3.5, 4.5, 5.5])
X_NIR25 = dict(lim=(0.92, 4.85), maj=[1, 2, 3, 4], mnr=[1.2, 1.6, 2.4, 2.8, 3.2, 3.6, 4.4, 4.8])
X_K = dict(lim=(2.0, 4.0), maj=[2, 3, 4], mnr=[2.5, 3.5])
X_SED = dict(lim=(0.795, 12.0), maj=[2, 4, 6, 8, 10, 12], mnr=[1, 3, 5, 7, 9, 11])
X_N = dict(lim=(8.0, 12.0), maj=[8, 9, 10, 11, 12], mnr=[8.5, 9.5, 10.5, 11.5])
X_M = dict(lim=(5.0, 8.0), maj=[5, 6, 7, 8], mnr=[5.5, 6.5, 7.5])
X_OD = dict(lim=(1.74, 22.2), maj=[3, 6, 9, 12, 15, 18, 21], mnr=[2, 4, 5, 7, 8, 10, 11, 13, 14, 16, 17, 19, 20, 22])

SRC = [
    dict(nir_mod=[(p24_nirA_wl, p24_nirA_v), (p24_nirB_wl, p24_nirB_v), (p24_nirC_wl, p24_nirC_v), (p24_nirD_wl, p24_nirD_v)],
         nir_obs=[(p24_obsB_wl, p24_obsB_v), (p24_obsC_wl, p24_obsC_v)], blue=(p24_blue_wl, p24_blue_v),
         sed=(p24_sed_wl, p24_sed_v), mirR=(p24_mirR_wl, p24_mirR_v), mirB=(p24_mirB_wl, p24_mirB_v),
         lwR=(p24_lwR_wl, p24_lwR_v), lwB=(p24_lwB_wl, p24_lwB_v), cont=(p24_cont_wl, p24_cont_v),
         pobs=p24_phot_obs, pmod=p24_phot_mod, od=[p24_od1, p24_od2, p24_od3], xnir=X_NIR),
    dict(nir_mod=[(p25_nirA_wl, p25_nirA_v), (p25_nirB_wl, p25_nirB_v), (p25_nirC_wl, p25_nirC_v)],
         nir_obs=[(p25_obsB_wl, p25_obsB_v), (p25_obsC_wl, p25_obsC_v)], blue=(p25_blue_wl, p25_blue_v),
         sed=(p25_sed_wl, p25_sed_v), mirR=(p25_mirR_wl, p25_mirR_v), mirB=(p25_mirB_wl, p25_mirB_v),
         lwR=(p25_lwR_wl, p25_lwR_v), lwB=(p25_lwB_wl, p25_lwB_v), cont=(p25_cont_wl, p25_cont_v),
         pobs=p25_phot_obs, pmod=p25_phot_mod, od=[p25_od1, p25_od2, p25_od3], xnir=X_NIR25),
    dict(nir_mod=[(p26_nirA_wl, p26_nirA_v), (p26_nirB_wl, p26_nirB_v), (p26_nirC_wl, p26_nirC_v), (p26_nirD_wl, p26_nirD_v)],
         nir_obs=[(p26_obsB_wl, p26_obsB_v), (p26_obsC_wl, p26_obsC_v)], blue=(p26_blue_wl, p26_blue_v),
         sed=(p26_sed_wl, p26_sed_v), mirR=(p26_mirR_wl, p26_mirR_v), mirB=(p26_mirB_wl, p26_mirB_v),
         lwR=(p26_lwR_wl, p26_lwR_v), lwB=(p26_lwB_wl, p26_lwB_v), cont=(p26_cont_wl, p26_cont_v),
         pobs=p26_phot_obs, pmod=p26_phot_mod, od=[p26_od1, p26_od2, p26_od3], xnir=X_NIR),
]

# ======================= LAYOUT =======================
W, H = 981, 1295
fig = plt.figure(figsize=(W / 100, H / 100), dpi=100)
COLS = {'c1': (64, 323), 'c2': (367, 642), 'c3': (689, 967), 'od': (701, 968)}
ROWS = [(12, 190), (224, 400), (435, 615), (647, 825), (857, 1038), (1070, 1248)]
SPINE = '#8a8a8a'


def new_ax(col, row):
    x0, x1 = COLS[col]
    y0, y1 = ROWS[row]
    return fig.add_axes([x0 / W, 1 - y1 / H, (x1 - x0) / W, (y1 - y0) / H])


def style(ax, row, col, xs):
    ax.set_xscale('log')
    ax.set_xlim(*xs['lim'])
    ax.set_ylim(*ylims[(row, col)])
    ax.xaxis.set_major_locator(FixedLocator(xs['maj']))
    ax.xaxis.set_major_formatter(FixedFormatter(['%g' % t for t in xs['maj']]))
    ax.xaxis.set_minor_locator(FixedLocator(xs['mnr']))
    ax.xaxis.set_minor_formatter(NullFormatter())
    ax.yaxis.set_major_locator(FixedLocator(yticks[(row, col)]))
    ax.yaxis.set_major_formatter(FixedFormatter(ylabels[(row, col)]))
    ax.yaxis.set_minor_locator(NullLocator())
    for s in ax.spines.values():
        s.set_color(SPINE)
        s.set_linewidth(0.9)
    ax.tick_params(which='both', direction='out', length=3.0, width=1.5, color='black',
                   labelsize=7.0, pad=1.8, top=False, right=False)


def line(ax, wl, v, **kw):
    n = min(len(wl), len(v))
    ax.plot(wl[:n], v[:n], **kw)


def tag(ax, text):
    ax.text(0.012, 0.022, text, transform=ax.transAxes, ha='left', va='bottom', fontsize=10.5)


YLAB = 'Log(λF$_{\\mathregular{λ}}$ [W/cm$^{\\mathregular{2}}$])'

for i, S in enumerate(SRC):
    r1, r2 = 2 * i, 2 * i + 1

    # --- column 1, wide NIR ---
    ax = new_ax('c1', r1)
    for wl, v in S['nir_obs']:
        line(ax, wl, v, color='black', lw=0.9)
    for wl, v in S['nir_mod']:
        line(ax, wl, v, color='red', lw=0.9)
    ax.plot(phot_wl, S['pobs'], 'o', color='black', ms=3, zorder=5)
    style(ax, r1, 0, S['xnir'])
    ax.set_ylabel(YLAB, fontsize=10.5, labelpad=1)
    tag(ax, full_names[i])

    # --- column 2, SED ---
    ax = new_ax('c2', r1)
    line(ax, S['mirB'][0], S['mirB'][1], color='black', lw=1.0)
    line(ax, S['lwB'][0], S['lwB'][1], color='black', lw=1.0)
    sw = list(S['sed'][0]) + list(S['mirR'][0][1:]) + list(S['lwR'][0][1:])
    sv = list(S['sed'][1]) + list(S['mirR'][1][1:]) + list(S['lwR'][1][1:])
    line(ax, sw, sv, color='red', lw=0.9)
    for wl, v in S['nir_obs']:
        line(ax, wl, v, color='black', lw=1.3)
    ax.plot(phot_wl, S['pmod'], 'o', color='red', ms=2.6, zorder=5)
    ax.plot(phot_wl, S['pobs'], 'o', color='black', ms=3, zorder=6)
    style(ax, r1, 1, X_SED)
    tag(ax, short_names[i])

    # --- column 3, 5-8 um ---
    ax = new_ax('c3', r1)
    line(ax, S['mirR'][0], S['mirR'][1], color='red', lw=0.9)
    line(ax, S['mirB'][0], S['mirB'][1], color='black', lw=1.2)
    ax.plot(phot_wl, S['pmod'], 'o', color='red', ms=2.6, zorder=5)
    ax.plot(phot_wl, S['pobs'], 'o', color='black', ms=3, zorder=6)
    style(ax, r1, 2, X_M)
    tag(ax, short_names[i])

    # --- column 1, 2-4 um zoom ---
    ax = new_ax('c1', r2)
    line(ax, S['blue'][0], S['blue'][1], color='blue', lw=0.9)
    for wl, v in S['nir_obs']:
        line(ax, wl, v, color='black', lw=0.9)
    for wl, v in S['nir_mod']:
        line(ax, wl, v, color='red', lw=0.9)
    ax.plot(phot_wl, S['pobs'], 'o', color='black', ms=3, zorder=5)
    style(ax, r2, 0, X_K)
    ax.set_ylabel(YLAB, fontsize=10.5, labelpad=1)
    tag(ax, short_names[i])

    # --- column 2, 8-12 um ---
    ax = new_ax('c2', r2)
    line(ax, S['cont'][0], S['cont'][1], color='blue', lw=1.0)
    line(ax, S['lwR'][0], S['lwR'][1], color='red', lw=0.9)
    line(ax, S['lwB'][0], S['lwB'][1], color='black', lw=1.2)
    style(ax, r2, 1, X_N)
    tag(ax, short_names[i])

    # --- column 3, optical depth ---
    ax = new_ax('od', r2)
    ax.axhline(0.0, color='black', lw=1.1, ls=(0, (4, 2.5)))
    for seg in S['od']:
        ax.plot([p[0] for p in seg], [p[1] for p in seg], color='black', lw=0.8)
    style(ax, r2, 2, X_OD)
    ax.set_ylabel('Optical Depth', fontsize=10.5, labelpad=1)
    tag(ax, short_names[i])

    if i == 2:
        for a in fig.axes[-3:]:
            a.set_xlabel('λ (μm)', fontsize=10.5, labelpad=2)

fig.savefig('out.png', dpi=100)
